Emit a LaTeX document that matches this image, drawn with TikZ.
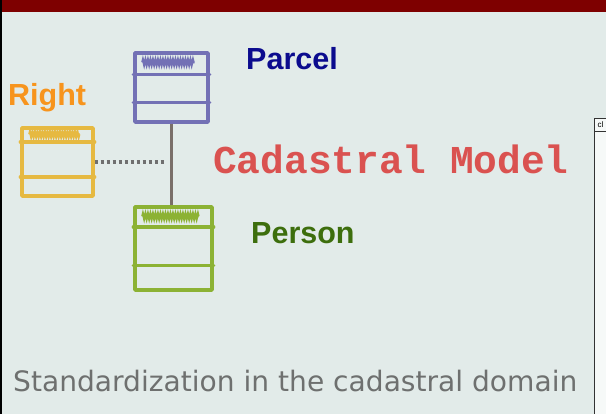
\documentclass[tikz,border=0pt]{standalone}
\usepackage{fontspec}
\setmainfont{Liberation Sans}
\newfontfamily\codefont{Liberation Mono}
\newfontfamily\slidefont{DejaVu Sans}
\usepackage{xcolor}
\usetikzlibrary{calc,positioning,decorations.pathmorphing}
\definecolor{slidebg}{HTML}{E2EBE9}
\definecolor{barred}{HTML}{7E0000}
\definecolor{parcelink}{HTML}{7371B5}
\definecolor{rightink}{HTML}{E6B941}
\definecolor{personink}{HTML}{8CB234}
\definecolor{linkink}{HTML}{7A6F69}
\definecolor{dotink}{HTML}{6F6F6F}
\definecolor{parcelblue}{HTML}{0B0B8E}
\definecolor{rightorange}{HTML}{F7941D}
\definecolor{persongreen}{HTML}{3D6E0D}
\definecolor{modelred}{HTML}{DA5250}
\definecolor{footgrey}{HTML}{6E706F}
\newcommand{\compart}[3]{\draw[#3,line width=3.4pt,line cap=round] ($(#1.north west)!#2!(#1.south west)$) -- ($(#1.north east)!#2!(#1.south east)$);}
\newcommand{\scribble}[3]{\draw[#3,line width=2.2pt,decorate,decoration={zigzag,segment length=2.5pt,amplitude=2.6pt}] ($(#1.north west)+(9,#2)$) -- ($(#1.north east)+(-15,#2)$);}

\begin{document}
\begin{tikzpicture}
[x=1pt,y=-1pt,
classbox/.style={draw=#1,line width=3.4pt,line join=round,inner sep=0pt},
boldlbl/.style={font=\fontsize{30.5}{34}\selectfont\bfseries,anchor=base west,inner sep=0pt},
link/.style={linkink,line width=3.4pt},
dotlink/.style={dotink,line width=3.2pt,dash pattern=on 3.5pt off 2.5pt}]
\fill[slidebg] (0,0) rectangle (606,414);
\useasboundingbox (0,0) rectangle (606,414);
\fill[barred] (0,0) rectangle (606,12);
\fill[black] (0,0) rectangle (2,414);

\node (window) at (594,118) [draw=black!80,line width=0.9pt,fill=white!70!slidebg,anchor=north west,minimum width=20pt,minimum height=300pt] {};
\draw[black!80,line width=0.7pt] (594,131) -- (606,131);
\node (cl) at (597.5,124.5) [anchor=west,inner sep=0pt,font=\fontsize{8}{9}\selectfont] {cl};

\node (parcel) at (171.5,87.5) [classbox=parcelink,minimum width=73pt,minimum height=69pt] {};
\node (right) at (57.5,162) [classbox=rightink,minimum width=71pt,minimum height=68pt] {};
\node (person) at (173.5,248.5) [classbox=personink,minimum width=77pt,minimum height=83pt] {};

\compart{parcel}{0.32}{parcelink}
\compart{parcel}{0.71}{parcelink}
\compart{right}{0.22}{rightink}
\compart{right}{0.71}{rightink}
\compart{person}{0.25}{personink}
\compart{person}{0.70}{personink}
\scribble{parcel}{11}{parcelink}
\scribble{right}{8}{rightink}
\scribble{person}{11}{personink}

\coordinate (joint) at (166,162);
\draw[link] (parcel.south) -- (parcel.south |- person.north);
\draw[dotlink] (right.east) -- (joint);

\node (parceltxt) at (246,70) [boldlbl,text=parcelblue] {Parcel};
\node (righttxt) at (8,106) [boldlbl,text=rightorange] {Right};
\node (persontxt) at (251,244) [boldlbl,text=persongreen] {Person};
\node (model) at (213,174) [anchor=base west,inner sep=0pt,text=modelred,font=\codefont\fontsize{39.5}{44}\selectfont\bfseries] {Cadastral Model};
\node (footer) at (13,392) [anchor=base west,inner sep=0pt,text=footgrey,font=\slidefont\fontsize{28.1}{32}\selectfont] {Standardization in the cadastral domain};
\end{tikzpicture}
\end{document}
